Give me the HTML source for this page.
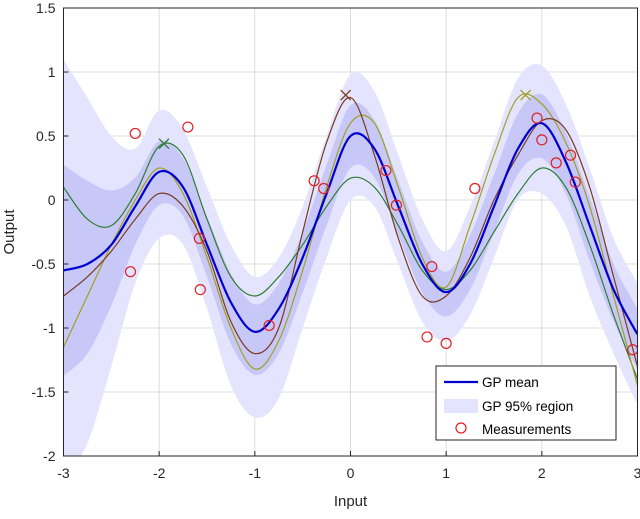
<!DOCTYPE html>
<html><head><meta charset="utf-8"><style>
body{margin:0;background:#fff;font-family:"Liberation Sans",sans-serif}
text{font-family:"Liberation Sans",sans-serif}
</style></head><body>
<svg id="chart" width="640" height="514" xmlns="http://www.w3.org/2000/svg">
<g id="plot"></g>
</svg>
<script>
const xs=[-3,-2.75,-2.5,-2.25,-2,-1.75,-1.5,-1.25,-1,-0.75,-0.5,-0.25,0,0.25,0.5,0.75,1,1.25,1.5,1.75,2,2.25,2.5,2.75,3];
const meanY=[-0.55,-0.5,-0.35,-0.05,0.22,0.1,-0.35,-0.8,-1.03,-0.85,-0.45,0.05,0.5,0.4,-0.05,-0.5,-0.72,-0.5,-0.05,0.4,0.6,0.3,-0.2,-0.7,-1.05];
const outerUp=[1.1,0.8,0.5,0.4,0.7,0.55,0.1,-0.35,-0.6,-0.45,-0.05,0.5,0.98,0.85,0.35,-0.15,-0.4,-0.05,0.45,0.95,1.05,0.75,0.25,-0.3,-0.65];
const outerLo=[-2.2,-1.9,-1.3,-0.65,-0.3,-0.35,-0.85,-1.45,-1.7,-1.55,-1.0,-0.45,0.0,-0.05,-0.5,-0.95,-1.1,-0.9,-0.45,0.0,0.05,-0.2,-0.75,-1.2,-1.6];
const greenY=[0.1,-0.15,-0.2,0.05,0.42,0.35,-0.15,-0.6,-0.75,-0.6,-0.35,-0.05,0.17,0.1,-0.2,-0.55,-0.7,-0.55,-0.25,0.05,0.25,0.1,-0.35,-0.9,-1.4];
const oliveY=[-1.15,-0.75,-0.35,0.0,0.25,0.05,-0.45,-1.0,-1.32,-1.1,-0.55,0.1,0.6,0.6,0.1,-0.45,-0.68,-0.2,0.35,0.8,0.75,0.45,-0.05,-0.75,-1.45];
const brownY=[-0.75,-0.6,-0.4,-0.15,0.05,-0.05,-0.4,-0.95,-1.2,-1.0,-0.25,0.45,0.8,0.35,-0.3,-0.75,-0.75,-0.45,0.0,0.35,0.62,0.55,0.1,-0.6,-1.3];
const measX=[-2.25,-1.7,-2.3,-1.58,-1.57,-0.85,-0.38,-0.28,0.37,0.48,0.85,0.8,1.0,1.3,1.95,2.0,2.15,2.3,2.35,2.95];
const measY=[0.52,0.57,-0.56,-0.3,-0.7,-0.98,0.15,0.09,0.23,-0.04,-0.52,-1.07,-1.12,0.09,0.64,0.47,0.29,0.35,0.14,-1.17];
const crossX=[-1.95,-0.05,1.83];
const crossY=[0.44,0.82,0.82];
const crossC=["#2e7d32","#7a3b1e","#a0a020"];
const xTicks=[-3,-2,-1,0,1,2,3];
const yTicks=[1.5,1,0.5,0,-0.5,-1,-1.5,-2];

const L=63.5,R=637.5,T=8,B=456;
const sx=v=>L+(v+3)/6*(R-L);
const sy=v=>T+(1.5-v)/3.5*(B-T);
const NS="http://www.w3.org/2000/svg";
const g=document.getElementById('plot');
function mk(t,a,p){const e=document.createElementNS(NS,t);for(const k in a)e.setAttribute(k,a[k]);(p||g).appendChild(e);return e;}
function smooth(X,Y){ // catmull-rom
  let d=`M${sx(X[0])},${sy(Y[0])}`;
  for(let i=0;i<X.length-1;i++){
    const p0=[sx(X[Math.max(i-1,0)]),sy(Y[Math.max(i-1,0)])],p1=[sx(X[i]),sy(Y[i])],p2=[sx(X[i+1]),sy(Y[i+1])],p3=[sx(X[Math.min(i+2,X.length-1)]),sy(Y[Math.min(i+2,X.length-1)])];
    const c1=[p1[0]+(p2[0]-p0[0])/6,p1[1]+(p2[1]-p0[1])/6],c2=[p2[0]-(p3[0]-p1[0])/6,p2[1]-(p3[1]-p1[1])/6];
    d+=` C${c1[0]},${c1[1]} ${c2[0]},${c2[1]} ${p2[0]},${p2[1]}`;
  }
  return d;
}
function band(up,lo){
  const rx=xs.slice().reverse(),rl=lo.slice().reverse();
  return smooth(xs,up)+' L'+smooth(rx,rl).slice(1)+' Z';
}
const defs=mk('clipPath',{id:'clip'});mk('rect',{x:L,y:T,width:R-L,height:B-T},defs);
// grid
xTicks.forEach(t=>{const l=mk('line',{x1:sx(t),x2:sx(t),y1:T,y2:B,stroke:'#dcdcdc','stroke-width':1});

});
yTicks.forEach(t=>{const l=mk('line',{x1:L,x2:R,y1:sy(t),y2:sy(t),stroke:'#dcdcdc','stroke-width':1});

});
const cg=mk('g',{'clip-path':'url(#clip)'});
const ob=mk('path',{d:band(outerUp,outerLo),fill:'#e4e4ff'},cg);


const inUp=meanY.map((m,i)=>m+(outerUp[i]-m)*0.5),inLo=meanY.map((m,i)=>m+(outerLo[i]-m)*0.5);
const ib=mk('path',{d:band(inUp,inLo),fill:'#c8c8f8'},cg);


[[greenY,'#2e7d32','sample-green'],[oliveY,'#a0a020','sample-olive'],[brownY,'#7a3b1e','sample-brown']].forEach(s=>{
  const p=mk('path',{d:smooth(xs,s[0]),fill:'none',stroke:s[1],'stroke-width':1.2},cg);
  
  
});
const mp=mk('path',{d:smooth(xs,meanY),fill:'none',stroke:'#0000d0','stroke-width':2.2},cg);


crossX.forEach((x,i)=>{const cx=sx(x),cy=sy(crossY[i]);
  const c=mk('path',{d:`M${cx-5},${cy-5}L${cx+5},${cy+5}M${cx-5},${cy+5}L${cx+5},${cy-5}`,stroke:crossC[i],'stroke-width':1.3},cg);
  
  });
measX.forEach((x,i)=>{const c=mk('circle',{cx:sx(x),cy:sy(measY[i]),r:5,fill:'none',stroke:'#e02020','stroke-width':1.2},cg);
  
  });
// axes box
const bx=mk('rect',{x:L,y:T,width:R-L,height:B-T,fill:'none',stroke:'#262626','stroke-width':1});


xTicks.forEach(t=>{mk('line',{x1:sx(t),x2:sx(t),y1:B,y2:B-5,stroke:'#262626'});
  const tx=mk('text',{x:sx(t),y:B+22,'text-anchor':'middle','font-size':14,fill:'#262626'});tx.textContent=t;
  
  });
yTicks.forEach(t=>{mk('line',{x1:L,x2:L+5,y1:sy(t),y2:sy(t),stroke:'#262626'});
  const tx=mk('text',{x:L-8,y:sy(t)+5,'text-anchor':'end','font-size':14,fill:'#262626'});tx.textContent=t;
  
  });
const xl=mk('text',{x:(L+R)/2,y:506,'text-anchor':'middle','font-size':15,fill:'#262626'});xl.textContent='Input';


const yl=mk('text',{x:14,y:(T+B)/2,'text-anchor':'middle','font-size':15,fill:'#262626',transform:`rotate(-90 14 ${(T+B)/2})`});yl.textContent='Output';


// legend
const lg=mk('g',{});


mk('rect',{x:436,y:366,width:180,height:74,fill:'#fff',stroke:'#262626','stroke-width':1},lg);
mk('line',{x1:444,x2:478,y1:382,y2:382,stroke:'#0000d0','stroke-width':2.2},lg);
mk('rect',{x:444,y:399,width:34,height:14,fill:'#e4e4ff'},lg);
mk('circle',{cx:461,cy:428,r:5,fill:'none',stroke:'#e02020','stroke-width':1.2},lg);
[['GP mean',387],['GP 95% region',411],['Measurements',434]].forEach(e=>{const t=mk('text',{x:482,y:e[1],'font-size':13.5,fill:'#000'},lg);t.textContent=e[0];
  
  });
</script>
</body></html>
